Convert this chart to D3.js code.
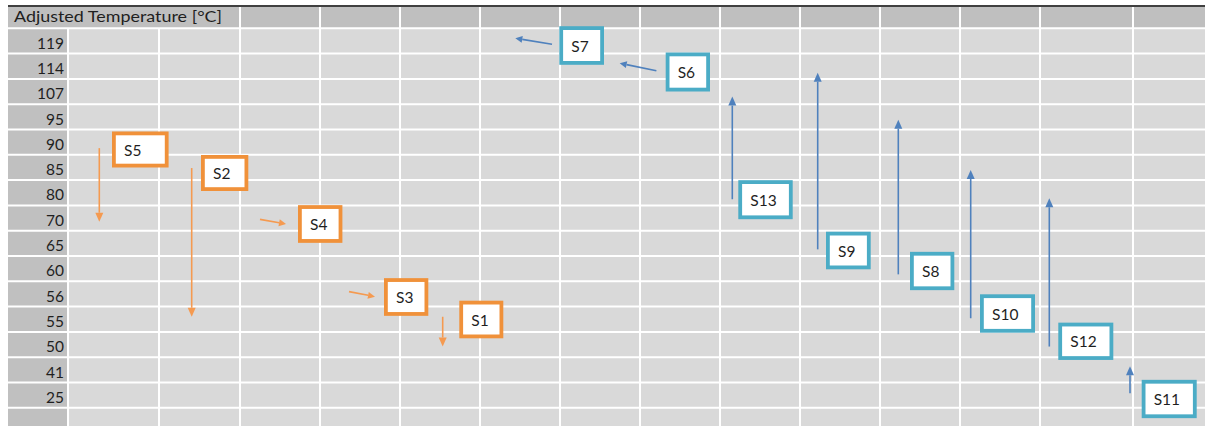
<!DOCTYPE html>
<html>
<head>
<meta charset="utf-8">
<script src="https://cdn.jsdelivr.net/npm/d3@7"></script>
<style>
  html, body { margin: 0; padding: 0; background: #ffffff; }
  svg { display: block; }
</style>
</head>
<body>
<svg id="chart" width="1205" height="426"></svg>
<script>
// ---------------- DATA ----------------
const axisTitle = "Adjusted Temperature [°C]";
const rowLabels = ["119", "114", "107", "95", "90", "85", "80", "70", "65", "60", "56", "55", "50", "41", "25"];
const streams = ["S5", "S2", "S4", "S3", "S1", "S7", "S6", "S13", "S9", "S8", "S10", "S12", "S11"];
const streamType = ["hot", "hot", "hot", "hot", "hot", "cold", "cold", "cold", "cold", "cold", "cold", "cold", "cold"];
const startTemp = [90, 85, 70, 56, 55, 119, 114, 80, 65, 60, 55, 50, 25];
const targetTemp = [70, 55, 70, 56, 50, 119, 114, 107, 114, 95, 85, 80, 41];

// ---------------- LAYOUT (positions / sizes, not data) ----------------
const W = 1205, H = 426;
const colEdges = [8, 68, 159, 240, 320, 400, 480, 560, 640, 720, 800, 880, 960, 1040, 1133, 1213];
const gridTop = 28.3, rowH = 25.3, headerTop = 7;
const boxLeft = [112, 201, 298, 384, 459.3, 559.3, 665.7, 738.3, 826, 910, 980, 1058.3, 1141.7];
const boxW    = [56.6, 47.3, 44.4, 44.3, 44, 44.7, 44.3, 54.4, 44.7, 44.3, 55, 55, 55];
const boxH    = [36, 36, 37.7, 37.7, 37.6, 38.6, 39, 39, 37.6, 38.3, 38.4, 37.3, 38.3];
const boxDy   = [7.35, 5.55, 5.95, 3.05, 0.25, 4.55, 5.75, 6.95, 7.15, 2.35, -5.75, -3.25, 3.85];
const arrowX  = [99.3, 191.7, null, null, 442.7, null, null, 732.3, 817.7, 898.3, 970.7, 1049.3, 1130];
const vOff    = [[6, 3.7], [0.6, -2.5], null, null, [-2.5, 2], null, null, [6.5, 5], [6, 6.5], [5.7, 3], [-1, 2.6], [2, 5.5], [-2, -3.6]];
// horizontal arrows: [x1 rel. box left, dy1, x2 rel. box left, dy2]
const hArrow  = [null, null, [-38, 1.3, -12, 6], [-35, -2.3, -9, 2.7], null, [-7.3, 3.3, -44, -2.7], [-9.3, 4.5, -46, -3]];

const colors = {
  header: "#bfbfbf", labelCol: "#c0c0c0", cell: "#d9d9d9", grid: "#ffffff",
  topRule: "#404040", text: "#1f1f1f",
  hotBox: "#f0913a", coldBox: "#4bacc6", hotArrow: "#f59a50", coldArrow: "#4f81bd"
};
const fontFam = "Lato, 'Open Sans', 'Liberation Sans', sans-serif";

// ---------------- SCALES ----------------
const y = d3.scaleBand()
  .domain([...rowLabels, ""])
  .range([gridTop, gridTop + rowH * (rowLabels.length + 1)])
  .paddingInner(0).paddingOuter(0);
const yc = t => y(String(t)) + y.bandwidth() / 2;

const svg = d3.select("#chart");

// ---------------- GRID ----------------
svg.append("rect").attr("x", colEdges[0]).attr("y", headerTop)
  .attr("width", W - colEdges[0]).attr("height", gridTop - headerTop).attr("fill", colors.header);
svg.append("rect").attr("x", colEdges[0]).attr("y", gridTop)
  .attr("width", colEdges[1] - colEdges[0]).attr("height", H - gridTop).attr("fill", colors.labelCol);
svg.append("rect").attr("x", colEdges[1]).attr("y", gridTop)
  .attr("width", W - colEdges[1]).attr("height", H - gridTop).attr("fill", colors.cell);

const rowEdges = d3.range(rowLabels.length + 2).map(i => gridTop + i * rowH);
svg.append("g").selectAll("line").data(rowEdges).join("line")
  .attr("x1", colEdges[0]).attr("x2", W)
  .attr("y1", d => d).attr("y2", d => d)
  .attr("stroke", colors.grid).attr("stroke-width", 2);

svg.append("g").selectAll("line").data(colEdges.slice(1)).join("line")
  .attr("x1", d => d).attr("x2", d => d)
  .attr("y1", gridTop).attr("y2", H)
  .attr("stroke", colors.grid).attr("stroke-width", 2);
svg.append("g").selectAll("line").data(colEdges.filter(d => d >= 240)).join("line")
  .attr("x1", d => d).attr("x2", d => d)
  .attr("y1", headerTop).attr("y2", gridTop)
  .attr("stroke", colors.grid).attr("stroke-width", 2);

svg.append("rect").attr("x", colEdges[0]).attr("y", 5)
  .attr("width", W - colEdges[0]).attr("height", 2).attr("fill", colors.topRule);

svg.append("text").attr("x", 14).attr("y", 21.5)
  .attr("font-family", fontFam).attr("font-size", 15).attr("fill", colors.text)
  .attr("textLength", 208).attr("lengthAdjust", "spacingAndGlyphs")
  .text(axisTitle);

svg.append("g").selectAll("text").data(rowLabels).join("text")
  .attr("x", 64)
  .attr("y", d => y(d) + y.bandwidth() - 5)
  .attr("text-anchor", "end")
  .attr("font-family", fontFam).attr("font-size", 15.5).attr("fill", colors.text)
  .text(d => d);

// ---------------- ARROWS ----------------
function arrow(g, x1, y1, x2, y2, color, headLen, headHalf) {
  const dx = x2 - x1, dy = y2 - y1, len = Math.hypot(dx, dy);
  const ux = dx / len, uy = dy / len;
  const bx = x2 - ux * headLen, by = y2 - uy * headLen;
  g.append("line").attr("x1", x1).attr("y1", y1).attr("x2", bx).attr("y2", by)
    .attr("stroke", color).attr("stroke-width", 1.6);
  g.append("path")
    .attr("d", `M${x2},${y2}L${bx - uy * headHalf},${by + ux * headHalf}L${bx + uy * headHalf},${by - ux * headHalf}Z`)
    .attr("fill", color);
}

const arrowG = svg.append("g");
streams.forEach((s, i) => {
  const col = streamType[i] === "hot" ? colors.hotArrow : colors.coldArrow;
  if (startTemp[i] !== targetTemp[i]) {
    const o = vOff[i];
    arrow(arrowG, arrowX[i], yc(startTemp[i]) + o[0], arrowX[i], yc(targetTemp[i]) + o[1], col, 9, 4);
  } else {
    const h = hArrow[i];
    arrow(arrowG, boxLeft[i] + h[0], yc(startTemp[i]) + h[1], boxLeft[i] + h[2], yc(startTemp[i]) + h[3], col, 7, 3.5);
  }
});

// ---------------- BOXES ----------------
const boxG = svg.append("g").selectAll("g").data(streams).join("g");
boxG.append("rect")
  .attr("x", (d, i) => boxLeft[i] + 1.9)
  .attr("y", (d, i) => yc(startTemp[i]) + boxDy[i] - boxH[i] / 2 + 1.9)
  .attr("width", (d, i) => boxW[i] - 3.8)
  .attr("height", (d, i) => boxH[i] - 3.8)
  .attr("fill", "#ffffff")
  .attr("stroke", (d, i) => streamType[i] === "hot" ? colors.hotBox : colors.coldBox)
  .attr("stroke-width", 3.8);
boxG.append("text")
  .attr("x", (d, i) => boxLeft[i] + 12)
  .attr("y", (d, i) => yc(startTemp[i]) + boxDy[i] + 6)
  .attr("font-family", fontFam).attr("font-size", 15.5).attr("fill", colors.text)
  .text(d => d);
</script>
</body>
</html>
